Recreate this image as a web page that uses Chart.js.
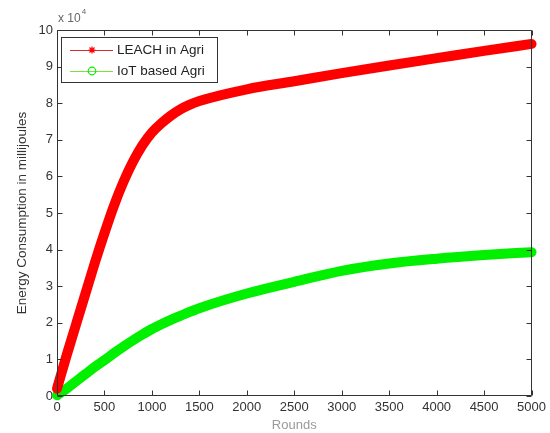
<!DOCTYPE html>
<html>
<head>
<meta charset="utf-8">
<script src="https://cdn.jsdelivr.net/npm/chart.js@4/dist/chart.umd.min.js"></script>
<style>
html,body{margin:0;padding:0;background:#fff;}
#wrap{width:550px;height:433px;}
</style>
</head>
<body>
<div id="wrap"><canvas id="c" width="550" height="433"></canvas></div>
<script>
// ---- data ----
const rounds = [0,100,200,300,400,500,600,700,800,900,1000,1100,1200,1300,1400,1500,2000,2500,3000,3500,4000,4500,5000];
const leachAgri = [2000,11000,19500,28000,36500,44500,52000,58500,64000,68500,72000,74500,76600,78300,79600,80600,83800,86000,88200,90300,92300,94300,96200];
const iotAgri = [200,2000,4000,6000,8000,9800,11700,13500,15200,16800,18300,19600,20800,21900,23000,24000,28000,31200,34200,36200,37500,38500,39300];
const seriesLabels = ['LEACH in Agri','IoT based Agri'];
const xTicks = [0,500,1000,1500,2000,2500,3000,3500,4000,4500,5000];
const yTicks = [0,1,2,3,4,5,6,7,8,9,10];
const yScaleFactor = 10000;
const xTitle = 'Rounds';
const yTitle = 'Energy Consumption in millijoules';

const FONT = "'Liberation Sans', Arial, sans-serif";

const toPts = (xs, ys) => xs.map((x,i)=>({x:x, y:ys[i]}));

const framePlugin = {
  id: 'frame',
  afterDraw(chart){
    const {ctx, chartArea:a, scales:{x, y}} = chart;
    ctx.save();
    ctx.strokeStyle = '#333';
    ctx.lineWidth = 1;
    const L = Math.round(a.left)+0.5, R = Math.round(a.right)-0.5, T = Math.round(a.top)+0.5, B = Math.round(a.bottom)-0.5;
    ctx.beginPath();
    ctx.rect(L, T, R-L, B-T);
    ctx.stroke();
    // inward ticks
    ctx.beginPath();
    xTicks.forEach(v=>{
      const px = Math.round(x.getPixelForValue(v))+0.5;
      ctx.moveTo(px, B); ctx.lineTo(px, B-5);
      ctx.moveTo(px, T); ctx.lineTo(px, T+5);
    });
    yTicks.forEach(v=>{
      const py = Math.round(y.getPixelForValue(v*yScaleFactor))+0.5;
      ctx.moveTo(L, py); ctx.lineTo(L+5, py);
      ctx.moveTo(R, py); ctx.lineTo(R-5, py);
    });
    ctx.stroke();

    // exponent label
    ctx.fillStyle = '#666';
    ctx.font = '12px ' + FONT;
    ctx.textBaseline = 'middle';
    ctx.textAlign = 'left';
    ctx.fillText('x 10', a.left+1, 19);
    const w = ctx.measureText('x 10').width;
    ctx.font = '8px ' + FONT;
    ctx.fillText('4', a.left+1+w+1, 12);

    // legend box
    const bx = 61.5, by = 37.5, bw = 156, bh = 45;
    ctx.fillStyle = '#fff';
    ctx.fillRect(bx, by, bw, bh);
    ctx.strokeStyle = '#333';
    ctx.strokeRect(bx, by, bw, bh);
    const rows = [50, 71];
    const lineCols = ['#d03030', '#7ee03a'];
    chart.data.datasets.forEach((ds, i)=>{
      const cy = rows[i];
      ctx.strokeStyle = lineCols[i];
      ctx.lineWidth = 1;
      ctx.beginPath(); ctx.moveTo(70, cy+0.5); ctx.lineTo(113, cy+0.5); ctx.stroke();
      ctx.strokeStyle = ds.borderColor;
      ctx.lineWidth = 1.2;
      const mx = 92;
      if (i === 0){
        ctx.beginPath();
        const r = 3.5;
        ctx.moveTo(mx-r, cy); ctx.lineTo(mx+r, cy);
        ctx.moveTo(mx, cy-r); ctx.lineTo(mx, cy+r);
        ctx.moveTo(mx-2.5, cy-2.5); ctx.lineTo(mx+2.5, cy+2.5);
        ctx.moveTo(mx-2.5, cy+2.5); ctx.lineTo(mx+2.5, cy-2.5);
        ctx.stroke();
      } else {
        ctx.beginPath(); ctx.arc(mx, cy, 3.8, 0, Math.PI*2); ctx.stroke();
      }
      ctx.fillStyle = '#222';
      ctx.font = '13.5px ' + FONT;
      ctx.textBaseline = 'middle';
      ctx.textAlign = 'left';
      ctx.fillText(ds.label, 117, cy);
    });
    ctx.restore();
  }
};

new Chart(document.getElementById('c'), {
  type: 'line',
  data: {
    datasets: [
      {label: seriesLabels[0], data: toPts(rounds, leachAgri), borderColor: '#ff0000', backgroundColor: '#ff0000',
       borderWidth: 10, pointRadius: 0, cubicInterpolationMode: 'monotone', borderCapStyle: 'round', borderJoinStyle: 'round', clip: false},
      {label: seriesLabels[1], data: toPts(rounds, iotAgri), borderColor: '#00f000', backgroundColor: '#00f000',
       borderWidth: 10, pointRadius: 0, cubicInterpolationMode: 'monotone', borderCapStyle: 'round', borderJoinStyle: 'round', clip: false}
    ]
  },
  options: {
    responsive: false,
    animation: false,
    layout: {padding: {top: 30, right: 18, left: 0, bottom: 0}},
    plugins: {legend: {display: false}, tooltip: {enabled: false}},
    scales: {
      x: {
        type: 'linear', min: 0, max: 5000,
        afterBuildTicks(s){ s.ticks = xTicks.map(v=>({value:v})); },
        afterFit(s){ s.height = 37; },
        grid: {display: false, drawTicks: false},
        border: {display: false},
        ticks: {color: '#333', font: {family: FONT, size: 13}, padding: 4, maxRotation: 0, autoSkip: false,
          callback: v => String(v)},
        title: {display: true, text: xTitle, color: '#9a9a9a', font: {family: FONT, size: 13}, padding: {top: 0, bottom: 0}}
      },
      y: {
        type: 'linear', min: 0, max: 10*yScaleFactor,
        afterBuildTicks(s){ s.ticks = yTicks.map(v=>({value:v*yScaleFactor})); },
        afterFit(s){ s.width = 57; },
        grid: {display: false, drawTicks: false},
        border: {display: false},
        ticks: {color: '#333', font: {family: FONT, size: 13}, padding: 4,
          callback: v => String(Math.round(v/yScaleFactor))},
        title: {display: true, text: yTitle, color: '#333', font: {family: FONT, size: 13.5}, padding: {top: 14, bottom: 0}}
      }
    }
  },
  plugins: [framePlugin]
});
</script>
</body>
</html>
